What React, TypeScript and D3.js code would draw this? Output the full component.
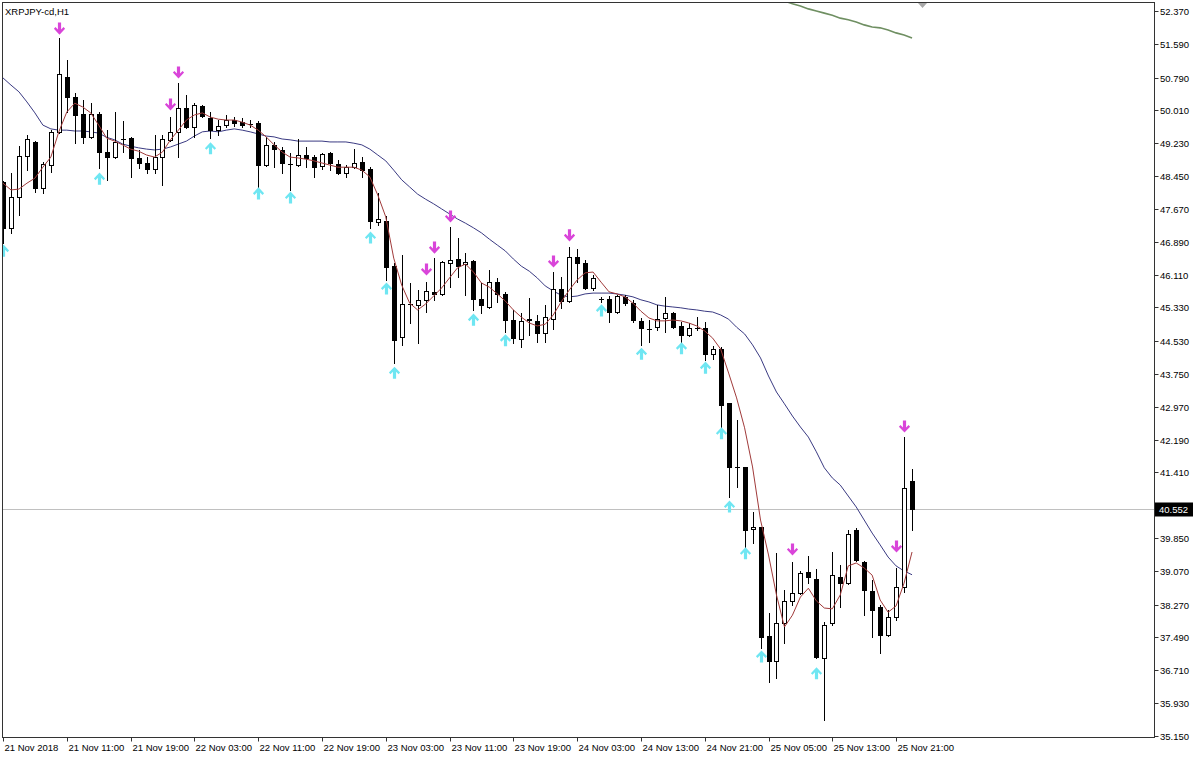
import React from 'react';
import * as d3 from 'd3';

const W = 1196;
const H = 758;

const title = 'XRPJPY-cd,H1';

const opens = [48.31,47.22,47.95,48.93,49.26,48.17,48.71,49.50,50.80,50.33,49.92,49.38,49.92,49.02,48.90,49.33,49.35,48.88,48.76,48.62,48.90,49.31,49.50,50.07,49.62,50.11,49.83,49.54,49.66,49.78,49.73,49.69,49.71,48.71,49.19,49.07,48.74,48.71,48.95,48.90,48.69,48.99,48.74,48.52,48.66,48.78,48.62,47.36,47.38,46.31,44.63,45.41,45.39,45.51,45.69,45.65,46.38,46.48,46.36,46.43,45.53,45.34,45.93,45.65,45.03,44.58,45.05,45.01,44.72,45.05,45.77,45.48,46.53,46.38,45.79,45.53,45.53,45.22,45.58,45.43,45.01,44.82,44.86,45.08,45.20,44.89,44.67,44.84,44.84,44.22,44.34,43.06,41.54,41.54,40.07,40.12,37.52,36.93,37.83,38.36,38.55,39.04,38.88,37.00,37.83,38.93,38.78,40.04,39.28,38.59,38.21,37.55,37.97,38.69,41.21];
const highs = [48.33,48.52,49.16,49.42,49.28,48.78,49.54,51.73,51.21,50.42,50.26,50.18,49.97,49.54,49.97,49.76,49.38,49.07,48.90,49.42,49.42,49.85,50.66,50.37,50.18,50.14,49.97,49.78,49.90,49.85,49.83,49.78,49.76,49.38,49.26,49.14,48.99,49.33,49.14,48.95,48.99,49.02,48.83,48.71,49.09,48.90,48.66,48.05,47.50,46.38,46.57,45.91,45.74,45.93,46.50,46.43,47.24,46.98,46.62,46.46,45.91,46.22,46.03,45.70,45.27,45.20,45.55,45.15,45.39,46.17,46.05,46.76,46.72,46.46,46.10,45.58,45.60,45.62,45.62,45.51,45.08,45.03,45.39,45.58,45.22,44.98,44.96,45.10,44.98,44.41,44.39,43.06,42.66,41.54,40.47,40.12,38.07,39.50,38.62,39.28,39.07,39.42,39.11,37.86,39.52,39.21,40.04,40.09,39.30,38.85,38.26,38.14,39.14,42.25,41.49];
const lows = [46.86,47.10,47.52,48.59,48.07,48.05,48.55,49.48,49.97,49.23,49.23,49.36,48.64,48.36,48.88,49.02,48.43,48.64,48.52,48.52,48.24,49.29,48.90,49.59,49.38,49.85,49.35,49.42,49.62,49.64,49.62,49.62,48.19,48.69,48.66,48.52,48.12,48.69,48.66,48.43,48.62,48.59,48.50,48.43,48.64,48.43,47.22,47.29,45.98,44.01,44.44,44.96,44.48,45.22,45.51,45.63,45.81,46.05,45.62,45.27,45.20,45.32,45.46,44.75,44.48,44.39,44.67,44.51,44.51,44.82,45.32,45.46,45.93,45.77,45.74,45.46,44.98,45.20,45.39,44.98,44.44,44.51,44.79,44.75,44.84,44.51,44.65,44.79,44.08,44.10,42.49,40.83,41.06,39.64,39.73,37.24,36.43,36.53,37.36,38.26,38.53,38.78,37.00,35.53,37.79,38.21,38.76,39.31,38.02,37.50,37.12,37.53,37.91,38.57,40.04];
const closes = [47.22,47.95,48.93,49.33,48.17,48.74,49.50,50.87,50.33,49.90,49.38,49.92,49.02,48.90,49.26,49.32,48.88,48.76,48.62,48.90,49.33,49.50,50.07,49.62,50.14,49.87,49.54,49.64,49.78,49.71,49.66,49.68,48.71,49.19,49.09,48.76,48.73,48.95,48.88,48.66,48.97,48.76,48.52,48.66,48.76,48.59,47.38,47.43,46.29,44.56,45.41,45.40,45.51,45.72,45.65,46.41,46.46,46.31,46.41,45.53,45.39,45.93,45.65,45.03,44.60,45.01,45.04,44.72,45.10,45.77,45.48,46.53,46.38,45.79,46.03,45.52,45.22,45.60,45.43,45.03,44.84,44.81,45.05,45.20,44.86,44.67,44.84,44.83,44.22,44.34,43.01,41.54,41.53,40.04,40.11,37.50,36.93,37.83,38.36,38.55,39.02,38.93,37.02,37.79,38.97,38.78,39.95,39.33,38.62,38.14,37.55,37.97,38.69,41.04,40.552];

const fastMA = [48.28,48.12,48.14,48.28,48.40,48.66,48.90,49.50,49.97,50.18,50.09,49.95,49.66,49.35,49.28,49.19,49.09,49.04,48.95,48.90,49.02,49.31,49.54,49.78,49.90,49.95,49.85,49.80,49.78,49.78,49.73,49.66,49.54,49.38,49.19,49.02,48.90,48.88,48.85,48.81,48.76,48.71,48.66,48.66,48.66,48.59,48.43,48.00,47.48,46.50,45.86,45.43,45.27,45.41,45.60,45.79,46.03,46.27,46.36,46.17,45.91,45.81,45.65,45.48,45.27,45.10,44.96,44.89,44.93,45.15,45.46,45.74,45.98,46.15,46.17,45.93,45.70,45.65,45.58,45.43,45.24,45.08,45.01,45.01,45.03,45.01,44.96,44.89,44.77,44.60,44.34,43.77,43.18,42.47,41.54,40.28,39.45,38.50,37.74,38.02,38.45,38.66,38.36,38.19,38.17,38.50,39.19,39.26,39.14,38.97,38.38,38.09,38.24,38.78,39.52];
const slowMA = [50.78,50.61,50.45,50.21,49.95,49.66,49.57,49.54,49.54,49.52,49.52,49.50,49.47,49.37,49.31,49.21,49.16,49.12,49.09,49.07,49.09,49.14,49.21,49.28,49.40,49.50,49.52,49.50,49.54,49.57,49.54,49.50,49.45,49.40,49.38,49.33,49.31,49.28,49.28,49.28,49.28,49.26,49.26,49.26,49.23,49.19,49.09,48.95,48.81,48.59,48.36,48.19,48.02,47.90,47.79,47.67,47.55,47.43,47.33,47.22,47.10,46.95,46.81,46.67,46.48,46.31,46.19,46.03,45.84,45.72,45.62,45.58,45.60,45.65,45.67,45.67,45.67,45.65,45.62,45.58,45.51,45.46,45.39,45.36,45.34,45.32,45.29,45.27,45.24,45.22,45.15,45.05,44.86,44.70,44.44,44.13,43.70,43.32,43.04,42.75,42.49,42.25,41.90,41.52,41.28,41.11,40.85,40.59,40.28,39.97,39.69,39.40,39.19,39.07,38.98];
const longMAStart = 97;
const longMA = [52.68,52.61,52.54,52.49,52.42,52.37,52.32,52.27,52.20,52.16,52.11,52.04,51.99,51.97,51.92,51.85,51.80,51.73];

const downArrowBars = [7,21,22,53,54,56,69,71,99,112,113];
const downArrowPrices = [51.94,50.14,50.90,46.22,46.74,47.48,46.41,47.03,39.57,39.64,42.49];
const upArrowBars = [0,12,26,32,36,46,48,49,59,63,75,80,85,88,90,91,93,95,102];
const upArrowPrices = [46.69,48.40,49.12,48.05,47.95,47.00,45.79,43.79,45.05,44.56,45.27,44.24,44.37,43.91,42.35,40.61,39.50,37.05,36.65];

const priceTicks = ['52.370','51.590','50.790','50.010','49.230','48.450','47.670','46.890','46.110','45.330','44.530','43.750','42.970','42.190','41.410','39.850','39.070','38.270','37.490','36.710','35.930','35.150'];
const timeTickBars = [0,8,16,24,32,40,48,56,64,72,80,88,96,104,112];
const timeTickLabels = ['21 Nov 2018','21 Nov 11:00','21 Nov 19:00','22 Nov 03:00','22 Nov 11:00','22 Nov 19:00','23 Nov 03:00','23 Nov 11:00','23 Nov 19:00','24 Nov 03:00','24 Nov 13:00','24 Nov 21:00','25 Nov 05:00','25 Nov 13:00','25 Nov 21:00'];
const lastPrice = 40.552;

const FONT = "'Liberation Sans', Arial, sans-serif";

export default function App() {
  const left = 2.5, right = 1154.5, top = 2.5, bottom = 737.5;
  const n = closes.length;
  const x = d3.scaleLinear().domain([0, 114]).range([3, 3 + 7.974 * 114]);
  const y = d3.scaleLinear().domain([35.15, 52.37]).range([736, 11]);
  const X = (i: number) => Math.round(x(i));

  const line = d3.line<[number, number]>().x(d => x(d[0])).y(d => y(d[1]));
  const fastPath = line(fastMA.map((v, i) => [i, v] as [number, number])) || '';
  const slowPath = line(slowMA.map((v, i) => [i, v] as [number, number])) || '';
  const longPath = line(longMA.map((v, i) => [i + longMAStart, v] as [number, number])) || '';

  const magenta = '#d945d9';
  const cyan = '#6fe6f2';

  const downArrow = (cx: number, cy: number) =>
    `M${cx - 1.6},${cy - 6.5} L${cx + 1.6},${cy - 6.5} L${cx + 1.6},${cy + 0.5} L${cx + 4},${cy - 2} L${cx + 5.6},${cy - 0.3} L${cx},${cy + 5.6} L${cx - 5.6},${cy - 0.3} L${cx - 4},${cy - 2} L${cx - 1.6},${cy + 0.5} Z`;
  const upArrow = (cx: number, cy: number) =>
    `M${cx - 1.6},${cy + 6.5} L${cx + 1.6},${cy + 6.5} L${cx + 1.6},${cy - 0.5} L${cx + 4},${cy + 2} L${cx + 5.6},${cy + 0.3} L${cx},${cy - 5.6} L${cx - 5.6},${cy + 0.3} L${cx - 4},${cy - 2 + 4} L${cx - 1.6},${cy - 0.5} Z`;

  const lastY = Math.round(y(lastPrice)) + 0.5;

  return (
    <svg width={W} height={H} style={{ position: 'absolute', left: 0, top: 0, background: '#fff' }} fontFamily={FONT}>
      <defs>
        <clipPath id="plot">
          <rect x={3} y={3} width={right - 3} height={bottom - 3} />
        </clipPath>
      </defs>
      <rect x={0} y={0} width={W} height={H} fill="#fff" />
      <g clipPath="url(#plot)">
        <line x1={left} x2={right} y1={lastY} y2={lastY} stroke="#c0c0c0" strokeWidth={1} />
        <path d={longPath} fill="none" stroke="#6f8f62" strokeWidth={1.6} />
        <path d={slowPath} fill="none" stroke="#3a3a82" strokeWidth={1} />
        {d3.range(n).map(i => {
          const cx = X(i);
          const o = opens[i], c = closes[i];
          const bull = c >= o;
          const yT = Math.round(y(Math.max(o, c)));
          const yB = Math.round(y(Math.min(o, c)));
          return (
            <g key={i}>
              <line x1={cx + 0.5} x2={cx + 0.5} y1={Math.round(y(highs[i]))} y2={Math.round(y(lows[i])) + 1} stroke="#000" strokeWidth={1} />
              {yB - yT < 1 ? (
                <line x1={cx - 2} x2={cx + 3} y1={yT + 0.5} y2={yT + 0.5} stroke="#000" strokeWidth={1} />
              ) : (
                <rect x={cx - 2 + 0.5} y={yT + 0.5} width={4} height={yB - yT} fill={bull ? '#fff' : '#000'} stroke="#000" strokeWidth={1} />
              )}
            </g>
          );
        })}
        <path d={fastPath} fill="none" stroke="#a03a3a" strokeWidth={1} />
        {downArrowBars.map((b, k) => (
          <path key={'d' + k} d={downArrow(X(b) + 0.5, y(downArrowPrices[k]))} fill={magenta} />
        ))}
        {upArrowBars.map((b, k) => (
          <path key={'u' + k} d={upArrow(X(b) + 0.5, y(upArrowPrices[k]))} fill={cyan} />
        ))}
        <path d={`M918,3 L927,3 L922.5,8 Z`} fill="#a8a8a8" />
      </g>
      {/* frame */}
      <rect x={left} y={top} width={right - left} height={bottom - top} fill="none" stroke="#333" strokeWidth={1} />
      <text x={5} y={15} fontSize={9.5} fill="#000">{title}</text>
      {/* price axis */}
      {priceTicks.map(t => {
        const yy = Math.round(y(+t)) + 0.5;
        return (
          <g key={t}>
            <line x1={right} x2={right + 4} y1={yy} y2={yy} stroke="#333" />
            <text x={1160} y={yy} dy="0.35em" fontSize={9.5} fill="#000">{t}</text>
          </g>
        );
      })}
      <rect x={right + 0.5} y={lastY - 7} width={38} height={14} fill="#000" />
      <text x={1159} y={lastY} dy="0.35em" fontSize={9.5} fill="#fff">{lastPrice.toFixed(3)}</text>
      {/* time axis */}
      {timeTickBars.map((b, k) => {
        const xx = X(b) + 0.5;
        return (
          <g key={b}>
            <line x1={xx} x2={xx} y1={bottom} y2={bottom + 4} stroke="#333" />
            <text x={xx + 1} y={751} fontSize={9.5} fill="#000">{timeTickLabels[k]}</text>
          </g>
        );
      })}
    </svg>
  );
}
